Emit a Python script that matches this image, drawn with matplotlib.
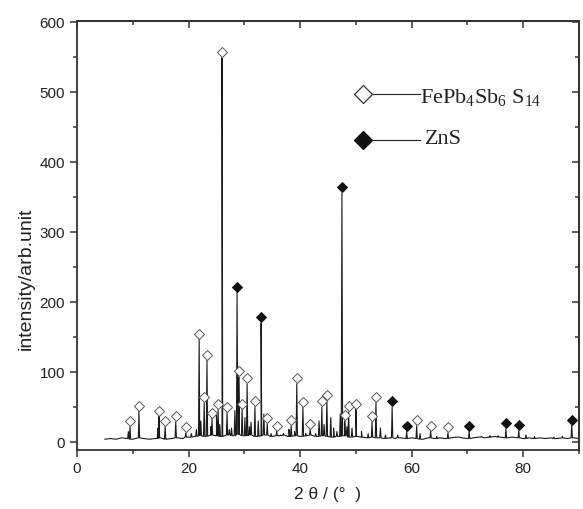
import matplotlib
matplotlib.use("Agg")
import matplotlib.pyplot as plt
from matplotlib.ticker import MultipleLocator, NullFormatter
from matplotlib.transforms import ScaledTranslation

plt.rcParams['font.family'] = ['Liberation Sans', 'DejaVu Sans']
plt.rcParams['mathtext.fontset'] = 'custom'
plt.rcParams['mathtext.rm'] = 'Liberation Serif'
plt.rcParams['mathtext.it'] = 'Liberation Serif:italic'

# ---- data ----
# FePb4Sb6S14 peaks (2theta, intensity)
fe_x = [9.5, 11.1, 14.7, 15.8, 17.7, 19.5, 21.9, 22.8, 23.3, 24.2, 25.3, 26.0,
        26.9, 29.0, 29.6, 30.5, 31.9, 34.1, 35.8, 38.4, 39.4, 40.5, 41.8, 43.9,
        44.8, 48.0, 48.7, 50.0, 52.9, 53.6, 60.9, 63.4, 66.5]
fe_y = [22, 44, 37, 22, 29, 13, 147, 56, 117, 34, 46, 549,
        42, 93, 47, 83, 50, 26, 15, 23, 83, 49, 18, 50,
        59, 30, 43, 47, 29, 56, 23, 15, 13]
# ZnS peaks
zns_x = [28.7, 33.0, 47.5, 56.5, 59.1, 70.3, 76.9, 79.2, 88.7]
zns_y = [214, 170, 356, 50, 15, 15, 19, 16, 24]
# other unlabelled reflections
oth_x = [9.2, 14.5, 20.5, 21.4, 22.2, 24.0, 25.0, 25.6, 27.3, 27.7, 28.3, 30.1,
         30.9, 31.2, 32.5, 33.5, 34.8, 36.5, 37.0, 38.0, 39.0, 41.0, 42.8, 43.4,
         44.3, 45.5, 46.0, 46.6, 47.2, 48.4, 49.3, 51.0, 52.2, 54.4, 55.3, 57.5,
         61.5, 64.5, 68.5, 72.5, 74.0, 75.5, 80.5, 82.0, 85.5, 87.0]
oth_y = [15, 20, 12, 18, 30, 22, 38, 25, 18, 20, 45, 35,
         22, 28, 30, 40, 12, 10, 12, 18, 15, 12, 12, 30,
         25, 35, 20, 15, 40, 22, 20, 15, 12, 20, 10, 10,
         12, 8, 7, 8, 9, 9, 10, 8, 7, 8]
# background level, 5..90 deg step 1
bg_x = list(range(5, 91))
bg_y = [4, 5, 4, 6, 5, 4, 6, 5, 4, 5, 6, 4, 5, 6, 5, 7,
        8, 9, 8, 10, 9, 8, 10, 9, 11, 9, 10, 8, 9, 10, 8, 9, 10, 8, 9,
        8, 9, 10, 8, 9, 8, 7, 8, 9, 7, 8, 7, 6, 7, 6,
        5, 6, 5, 6, 5, 6, 5, 4, 6, 5, 6, 5, 6, 7, 6, 5, 6, 7, 6, 7, 8, 7,
        6, 7, 6, 5, 6, 5, 6, 5, 6, 5, 6, 5, 6, 5]

# ---- build trace ----
pts = list(zip(bg_x, bg_y))
for px, py in zip(fe_x + zns_x + oth_x, fe_y + zns_y + oth_y):
    foot = bg_y[min(max(int(round(px)) - 5, 0), len(bg_y) - 1)]
    pts += [(px - 0.12, foot), (px, py), (px + 0.12, foot)]
pts.sort()
tx = [p[0] for p in pts]
ty = [p[1] for p in pts]

fig = plt.figure(figsize=(5.83, 5.09), dpi=100)
ax = fig.add_axes([0.1321, 0.1159, 0.861, 0.8428])
ax.plot(tx, ty, color='#1a1a1a', lw=0.8)

off = ScaledTranslation(0, 4.0 / 72, fig.dpi_scale_trans)
ax.plot(fe_x, fe_y, linestyle='none', marker='D', ms=4.8, mfc='white',
        mec='#555555', mew=0.7, transform=ax.transData + off, zorder=3)
ax.plot(zns_x, zns_y, linestyle='none', marker='D', ms=5.2, mfc='#111111',
        mec='#111111', mew=0.7, transform=ax.transData + off, zorder=3)

ax.set_xlim(0, 90)
ax.set_ylim(-11.4, 601.4)
ax.xaxis.set_major_locator(MultipleLocator(20))
ax.xaxis.set_minor_locator(MultipleLocator(10))
ax.yaxis.set_major_locator(MultipleLocator(100))
ax.yaxis.set_minor_locator(MultipleLocator(50))
ax.tick_params(which='both', direction='out', labelsize=11, width=1.1,
               color='#333333', labelcolor='#222222')
ax.tick_params(which='major', length=5)
ax.tick_params(which='minor', length=3)
for s in ax.spines.values():
    s.set_linewidth(1.3)
    s.set_color('#333333')

# mirrored inward ticks on top and right
for sec in (ax.secondary_xaxis('top'), ax.secondary_yaxis('right')):
    axis = sec.xaxis if hasattr(sec, 'xaxis') and sec._orientation == 'x' else sec.yaxis
    if sec._orientation == 'x':
        sec.xaxis.set_major_locator(MultipleLocator(20))
        sec.xaxis.set_minor_locator(MultipleLocator(10))
        sec.xaxis.set_major_formatter(NullFormatter())
    else:
        sec.yaxis.set_major_locator(MultipleLocator(100))
        sec.yaxis.set_minor_locator(MultipleLocator(50))
        sec.yaxis.set_major_formatter(NullFormatter())
    sec.tick_params(which='both', direction='in', width=1.1, color='#333333')
    sec.tick_params(which='major', length=5)
    sec.tick_params(which='minor', length=3)
    for s in sec.spines.values():
        s.set_linewidth(1.3)
        s.set_color('#333333')

ax.set_ylabel('intensity/arb.unit', fontsize=14, color='#222222', labelpad=6)
ax.yaxis.set_label_coords(-0.085, 0.40)
ax.set_xlabel('2 θ / (°  )', fontsize=12.5, color='#222222', labelpad=8)

# legend drawn Origin-style
ax.plot([0.570], [0.830], transform=ax.transAxes, marker='D', ms=9.2,
        mfc='white', mec='#333333', mew=0.9, clip_on=False)
ax.plot([0.590, 0.683], [0.830, 0.830], transform=ax.transAxes, color='#222222', lw=0.8)
ax.text(0.684, 0.822, r'$\mathregular{FePb_4Sb_6\ S_{14}}$', transform=ax.transAxes,
        family='Liberation Serif', fontsize=16, va='center', ha='left', color='#222222')
ax.plot([0.570], [0.723], transform=ax.transAxes, marker='D', ms=9.2,
        mfc='#111111', mec='#111111', mew=0.9, clip_on=False)
ax.plot([0.590, 0.683], [0.723, 0.723], transform=ax.transAxes, color='#222222', lw=0.8)
ax.text(0.694, 0.723, 'ZnS', transform=ax.transAxes, family='Liberation Serif',
        fontsize=16, va='center', ha='left', color='#222222')

fig.savefig('out.png', dpi=100)
